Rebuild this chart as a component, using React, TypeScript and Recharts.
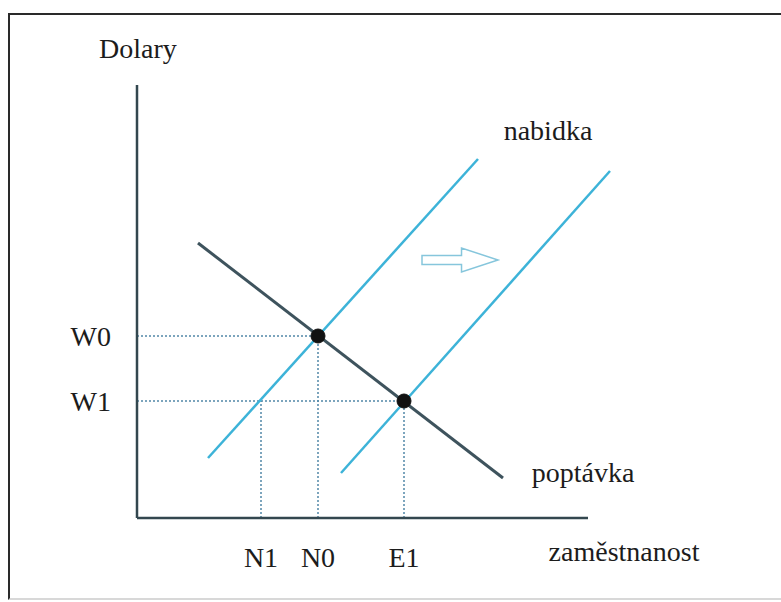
import React from "react";
import { LineChart, Line, XAxis, YAxis, ReferenceLine, ReferenceDot } from "recharts";

// curves (employment on x, wage in dollars on y)
const demand = [{ x: 12.2, y: 55 }, { x: 73.2, y: 8 }];
const supplyOld = [{ x: 14.2, y: 12 }, { x: 68.2, y: 71.8 }];
const supplyNew = [{ x: 40.8, y: 9 }, { x: 94.6, y: 69.4 }];

const wageTicks = [23.4, 36.4];
const wageLabels = ["W1", "W0"];
const jobTicks = [24.8, 36.2, 53.4];
const jobLabels = ["N1", "N0", "E1"];
const jobWage = [23.4, 36.4, 23.4];

const equilibria = [{ x: 36.2, y: 36.4 }, { x: 53.4, y: 23.4 }];

const xAxisEnd = 90.2;
const yAxisTop = 86.6;
const shiftArrow = [{ x: 57, y: 51.6 }, { x: 72.2, y: 51.6 }];

const curveLabels = [
  { text: "Dolary", x: 0.2, y: 94 },
  { text: "nabidka", x: 82.2, y: 77.6 },
  { text: "poptávka", x: 89.2, y: 9.2 },
  { text: "zaměstnanost", x: 97.4, y: -6.6 },
];

const FONT = '"Liberation Serif", "Times New Roman", serif';
const AXIS = "#33474f";
const BLUE = "#3db3d8";
const DOTTED = "#5288a8";

const ArrowShape = (props: any) => {
  const { x1, y1, x2 } = props;
  const len = x2 - x1;
  const s = x1 + len * 0.52;
  const d = `M${x1},${y1 - 4.5} L${s},${y1 - 4.5} L${s},${y1 - 12} L${x2},${y1} L${s},${y1 + 12} L${s},${y1 + 4.5} L${x1},${y1 + 4.5} Z`;
  return <path d={d} fill="#fff" stroke="#86c6dc" strokeWidth={1.5} />;
};

export default function App() {
  const tickStyle = { fill: "#1c1c1c", fontSize: 28, fontFamily: FONT };
  return (
    <div style={{ position: "absolute", left: 0, top: 0, width: 781, height: 602, background: "#fff", overflow: "hidden" }}>
      <div
        style={{
          position: "absolute",
          left: 8,
          top: 13,
          width: 800,
          height: 583,
          borderTop: "2px solid #2a2a2a",
          borderLeft: "2px solid #2a2a2a",
          borderBottom: "2px solid #d8d8d8",
        }}
      />
      <LineChart
        width={781}
        height={602}
        margin={{ top: 18, right: 144, bottom: 44, left: 57 }}
        style={{ position: "absolute", left: 0, top: 0 }}
      >
        <XAxis
          type="number"
          dataKey="x"
          domain={[0, 100]}
          height={40}
          ticks={jobTicks}
          tickFormatter={(v: number) => jobLabels[jobTicks.indexOf(v)]}
          axisLine={false}
          tickLine={false}
          tickSize={0}
          tickMargin={29}
          tick={tickStyle}
          interval={0}
        />
        <YAxis
          type="number"
          dataKey="y"
          domain={[0, 100]}
          width={80}
          ticks={wageTicks}
          tickFormatter={(v: number) => wageLabels[wageTicks.indexOf(v)]}
          axisLine={false}
          tickLine={false}
          tickSize={0}
          tickMargin={26}
          tick={tickStyle}
          interval={0}
        />

        {equilibria.map((p, i) => (
          <ReferenceLine
            key={`h${i}`}
            segment={[{ x: 0, y: p.y }, { x: p.x, y: p.y }]}
            stroke={DOTTED}
            strokeWidth={1.5}
            strokeDasharray="2 2"
          />
        ))}
        {jobTicks.map((n, i) => (
          <ReferenceLine
            key={`v${i}`}
            segment={[{ x: n, y: 0 }, { x: n, y: jobWage[i] }]}
            stroke={DOTTED}
            strokeWidth={1.5}
            strokeDasharray="2 2"
          />
        ))}

        <ReferenceLine segment={[{ x: 0, y: 0 }, { x: xAxisEnd, y: 0 }]} stroke={AXIS} strokeWidth={2.5} />
        <ReferenceLine segment={[{ x: 0, y: 0 }, { x: 0, y: yAxisTop }]} stroke={AXIS} strokeWidth={2.5} />

        <Line data={supplyOld} dataKey="y" type="linear" stroke={BLUE} strokeWidth={2.5} dot={false} isAnimationActive={false} />
        <Line data={supplyNew} dataKey="y" type="linear" stroke={BLUE} strokeWidth={2.5} dot={false} isAnimationActive={false} />
        <Line data={demand} dataKey="y" type="linear" stroke="#3e535d" strokeWidth={3} dot={false} isAnimationActive={false} />

        <ReferenceLine segment={shiftArrow} shape={ArrowShape} />

        {equilibria.map((p, i) => (
          <ReferenceDot key={`e${i}`} x={p.x} y={p.y} r={7} fill="#111" stroke="#111" />
        ))}

        {curveLabels.map((l) => (
          <ReferenceDot
            key={l.text}
            x={l.x}
            y={l.y}
            r={0}
            fill="none"
            stroke="none"
            ifOverflow="visible"
            label={{ value: l.text, position: "center", fill: "#1c1c1c", fontSize: 28, fontFamily: FONT }}
          />
        ))}
      </LineChart>
    </div>
  );
}
